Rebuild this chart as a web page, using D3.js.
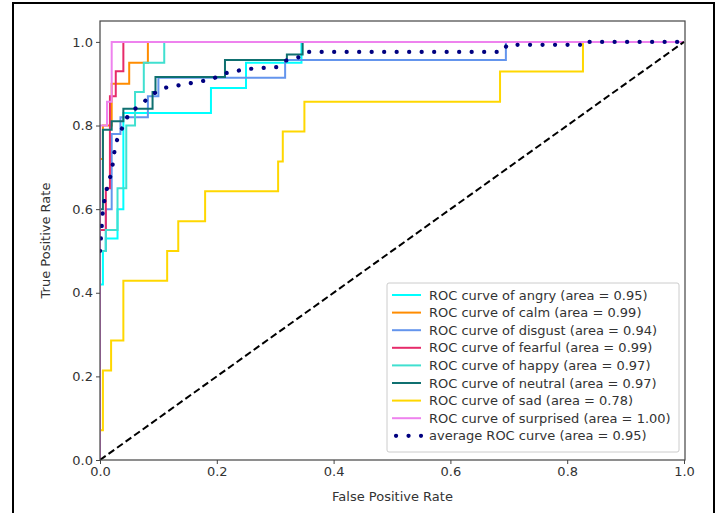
<!DOCTYPE html>
<html><head><meta charset="utf-8">
<script src="https://cdn.jsdelivr.net/npm/d3@7"></script>
<style>body{margin:0;background:#fff;} svg{display:block;}</style>
</head><body>
<script>
const classNames = ["angry","calm","disgust","fearful","happy","neutral","sad","surprised"];
const areas = ["0.95","0.99","0.94","0.99","0.97","0.97","0.78","1.00"];
const avgArea = "0.95";
const xTicks = [0,0.2,0.4,0.6,0.8,1.0];
const yTicks = [0,0.2,0.4,0.6,0.8,1.0];

const rocAngry = [[0,0],[0,0.42],[0.005,0.42],[0.005,0.5],[0.01,0.5],[0.01,0.53],[0.03,0.53],[0.03,0.6],[0.04,0.6],[0.04,0.83],[0.19,0.83],[0.19,0.89],[0.25,0.89],[0.25,0.95],[0.345,0.95],[0.345,1],[1,1]];
const rocCalm = [[0,0],[0,0.72],[0.005,0.72],[0.005,0.8],[0.02,0.8],[0.02,0.9],[0.05,0.9],[0.05,0.95],[0.082,0.95],[0.082,1],[1,1]];
const rocDisgust = [[0,0],[0,0.5],[0.01,0.5],[0.01,0.6],[0.02,0.6],[0.02,0.78],[0.035,0.78],[0.035,0.82],[0.082,0.82],[0.082,0.87],[0.1,0.87],[0.1,0.914],[0.317,0.914],[0.317,0.957],[0.695,0.957],[0.695,1],[1,1]];
const rocFearful = [[0,0],[0,0.55],[0.01,0.55],[0.01,0.65],[0.017,0.65],[0.017,0.87],[0.027,0.87],[0.027,0.93],[0.04,0.93],[0.04,1],[1,1]];
const rocHappy = [[0,0],[0,0.5],[0.01,0.5],[0.01,0.55],[0.03,0.55],[0.03,0.65],[0.045,0.65],[0.045,0.8],[0.06,0.8],[0.06,0.88],[0.075,0.88],[0.075,0.95],[0.11,0.95],[0.11,1],[1,1]];
const rocNeutral = [[0,0],[0,0.6],[0.005,0.6],[0.005,0.79],[0.02,0.79],[0.02,0.81],[0.04,0.81],[0.04,0.84],[0.09,0.84],[0.09,0.88],[0.095,0.88],[0.095,0.916],[0.214,0.916],[0.214,0.957],[0.32,0.957],[0.32,0.97],[0.347,0.97],[0.347,1],[1,1]];
const rocSad = [[0,0],[0,0.071],[0.005,0.071],[0.005,0.214],[0.019,0.214],[0.019,0.286],[0.04,0.286],[0.04,0.429],[0.115,0.429],[0.115,0.5],[0.134,0.5],[0.134,0.571],[0.18,0.571],[0.18,0.643],[0.305,0.643],[0.305,0.714],[0.313,0.714],[0.313,0.786],[0.35,0.786],[0.35,0.857],[0.685,0.857],[0.685,0.929],[0.827,0.929],[0.827,1],[1,1]];
const rocSurprised = [[0,0],[0,0.8],[0.012,0.8],[0.012,0.857],[0.02,0.857],[0.02,1],[1,1]];
const rocAverage = [[0,0.5],[0.005,0.6],[0.01,0.64],[0.02,0.69],[0.025,0.74],[0.03,0.77],[0.04,0.8],[0.05,0.83],[0.07,0.85],[0.09,0.875],[0.11,0.89],[0.15,0.9],[0.19,0.91],[0.214,0.925],[0.25,0.935],[0.305,0.94],[0.317,0.955],[0.345,0.965],[0.355,0.976],[0.69,0.976],[0.697,0.993],[0.827,0.993],[0.827,1],[1,1]];
const diagonal = [[0,0],[1,1]];

const curves = [rocAngry,rocCalm,rocDisgust,rocFearful,rocHappy,rocNeutral,rocSad,rocSurprised];
const colors = ["#00ffff","#ff8c00","#6495ed","#e62b6a","#40e0d0","#0f7070","#ffd700","#ee82ee"];
const avgColor = "#000080";

const W = 727, H = 513;
const svg = d3.select("body").append("svg").attr("width",W).attr("height",H);
svg.append("rect").attr("width",W).attr("height",H).attr("fill","#fff");
svg.append("rect").attr("x",13).attr("y",3).attr("width",701).attr("height",530)
  .attr("fill","none").attr("stroke","#000").attr("stroke-width",2);

const L=100, R=685, B=460;
const x = d3.scaleLinear().domain([0,1]).range([L,R-1]);
const y = d3.scaleLinear().domain([0,1.05]).range([B,21]);
const font = "DejaVu Sans, sans-serif";
const g = svg.append("g");
const clip = svg.append("clipPath").attr("id","c").append("rect")
  .attr("x",L).attr("y",y(1.05)).attr("width",R-L).attr("height",B-y(1.05));
const plot = g.append("g").attr("clip-path","url(#c)");
const line = d3.line().x(d=>x(d[0])).y(d=>y(d[1]));

curves.forEach((c,i)=>{
  plot.append("path").attr("d",line(c)).attr("fill","none")
    .attr("stroke",colors[i]).attr("stroke-width",2);
});
plot.append("path").attr("d",line(rocAverage)).attr("fill","none")
  .attr("stroke",avgColor).attr("stroke-width",4.2).attr("stroke-linecap","round")
  .attr("stroke-dasharray","0.1 12.4");
plot.append("path").attr("d",line(diagonal)).attr("fill","none")
  .attr("stroke","#000").attr("stroke-width",2).attr("stroke-dasharray","7 3.5");

// frame
g.append("rect").attr("x",L).attr("y",y(1.05)).attr("width",R-L).attr("height",B-y(1.05))
  .attr("fill","none").attr("stroke","#444").attr("stroke-width",1.2);

const xAxis = g.append("g").attr("transform",`translate(0,${B})`)
  .call(d3.axisBottom(x).tickValues(xTicks).tickFormat(d3.format(".1f")).tickSize(4).tickPadding(3));
const yAxis = g.append("g").attr("transform",`translate(${L},0)`)
  .call(d3.axisLeft(y).tickValues(yTicks).tickFormat(d3.format(".1f")).tickSize(4).tickPadding(3));
[xAxis,yAxis].forEach(a=>{
  a.select(".domain").remove();
  a.selectAll("line").attr("stroke","#444");
  a.selectAll("text").attr("font-family",font).attr("font-size",13).attr("fill","#333");
});

g.append("text").attr("x",(L+R)/2).attr("y",501).attr("text-anchor","middle")
  .attr("font-family",font).attr("font-size",13).attr("fill","#333").text("False Positive Rate");
g.append("text").attr("transform",`translate(50,${(B+21)/2}) rotate(-90)`).attr("text-anchor","middle")
  .attr("font-family",font).attr("font-size",13).attr("fill","#333").text("True Positive Rate");

// legend
const lg = g.append("g");
lg.append("rect").attr("x",387).attr("y",283).attr("width",292).attr("height",169).attr("rx",2)
  .attr("fill","#fff").attr("fill-opacity",0.85).attr("stroke","#ccc");
const labels = classNames.map((n,i)=>`ROC curve of ${n} (area = ${areas[i]})`);
labels.push(`average ROC curve (area = ${avgArea})`);
labels.forEach((t,i)=>{
  const yy = 295 + i*17.6;
  if(i<8){
    lg.append("line").attr("x1",392).attr("x2",421).attr("y1",yy).attr("y2",yy)
      .attr("stroke",colors[i]).attr("stroke-width",2);
  } else {
    lg.append("line").attr("x1",396).attr("x2",421).attr("y1",yy).attr("y2",yy)
      .attr("stroke",avgColor).attr("stroke-width",4.2).attr("stroke-linecap","round")
      .attr("stroke-dasharray","0.1 12.4");
  }
  lg.append("text").attr("x",429).attr("y",yy+4.5).attr("font-family",font).attr("font-size",13)
    .attr("fill","#333").text(t);
});
</script>
</body></html>
